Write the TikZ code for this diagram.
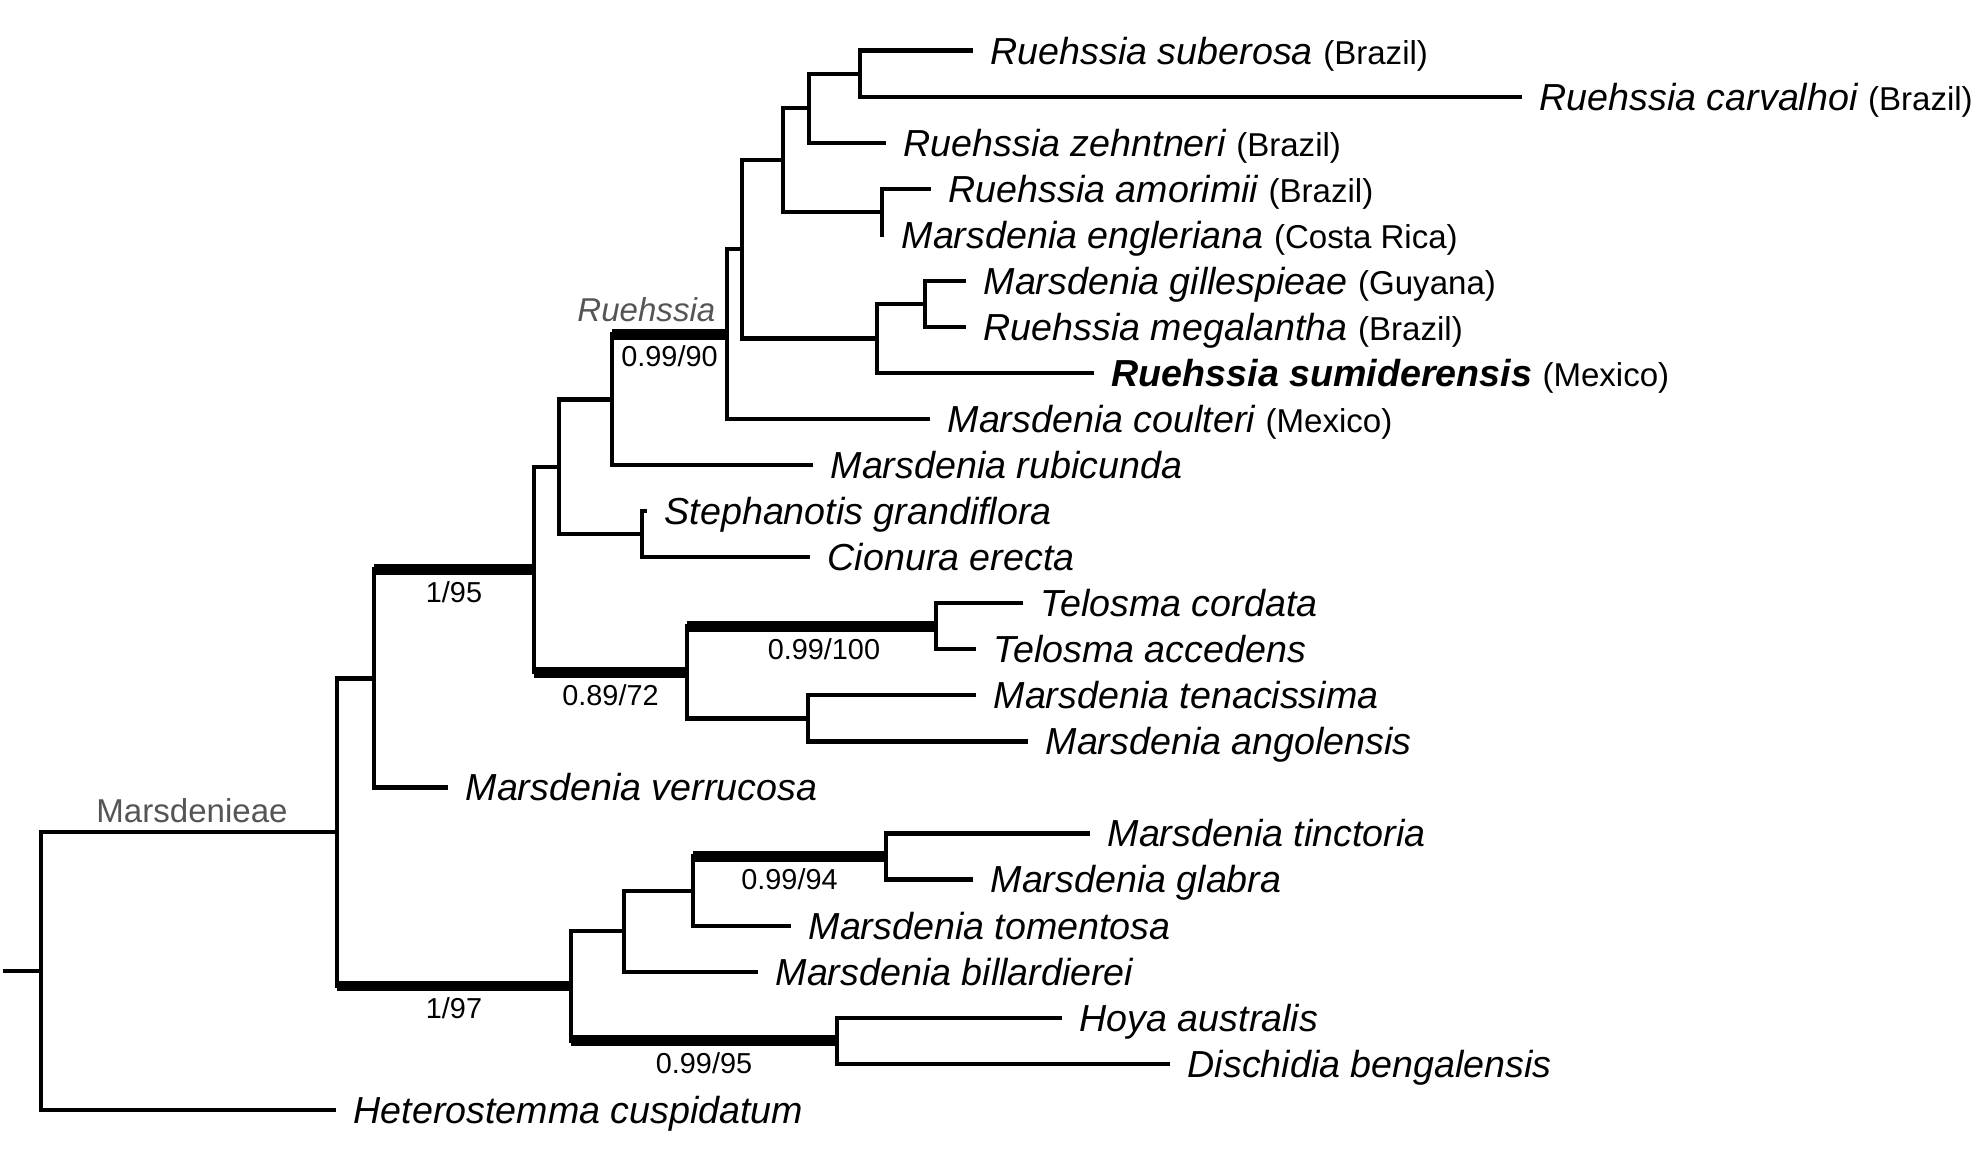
\documentclass[tikz,border=0pt]{standalone}
\usepackage{fontspec}
\setsansfont{Liberation Sans}
\usepackage{tikz}
\usetikzlibrary{calc}
\definecolor{cladegray}{HTML}{555555}
\newcommand\ctry[1]{{\upshape\fontsize{9.4}{11}\selectfont #1}}

\begin{document}
\begin{tikzpicture}[x=0.01cm,y=-0.01cm,
 br/.style={line width=1.2pt},
 tb/.style={line width=3.1pt},
 tip/.style={anchor=base west,inner sep=0pt,xshift=1.7mm,yshift=-1.34mm,font=\sffamily\fontsize{10.7}{12}\selectfont\itshape},
 sup/.style={inner sep=0pt,yshift=-2.25mm,font=\sffamily\fontsize{8.2}{10}\selectfont},
 grp/.style={inner sep=0pt,text=cladegray,font=\sffamily\fontsize{9.4}{11}\selectfont}]
 \useasboundingbox (0,0) rectangle (1984,1151);
 % tip ends
 \coordinate (t1) at (973,50.6);
 \coordinate (t2) at (1522,96.7);
 \coordinate (t3) at (886,142.7);
 \coordinate (t4) at (931,188.8);
 \coordinate (t5) at (884,234.8);
 \coordinate (t6) at (966,280.9);
 \coordinate (t7) at (966,326.9);
 \coordinate (t8) at (1094,373.0);
 \coordinate (t9) at (930,419.0);
 \coordinate (t10) at (813,465.1);
 \coordinate (t11) at (647,511.1);
 \coordinate (t12) at (810,557.2);
 \coordinate (t13) at (1023,603.2);
 \coordinate (t14) at (976,649.3);
 \coordinate (t15) at (976,695.3);
 \coordinate (t16) at (1028,741.4);
 \coordinate (t17) at (448,787.4);
 \coordinate (t18) at (1090,833.5);
 \coordinate (t19) at (973,879.5);
 \coordinate (t20) at (791,925.6);
 \coordinate (t21) at (758,971.6);
 \coordinate (t22) at (1062,1017.7);
 \coordinate (t23) at (1170,1063.7);
 \coordinate (t24) at (336,1109.8);
 % internal nodes
 \coordinate (a1) at (860,73.65);
 \coordinate (a2) at (809,108.2);
 \coordinate (a3) at (882,211.8);
 \coordinate (a4) at (783,160);
 \coordinate (a5) at (925,303.9);
 \coordinate (a6) at (877,338.5);
 \coordinate (a7) at (742,249.2);
 \coordinate (a8) at (727,334.1);
 \coordinate (a9) at (612,399.6);
 \coordinate (a10) at (642,534.2);
 \coordinate (a11) at (559,466.9);
 \coordinate (a12) at (936,626.3);
 \coordinate (a13) at (808,718.4);
 \coordinate (a14) at (687,672.3);
 \coordinate (a15) at (534,569.6);
 \coordinate (a16) at (374,678.5);
 \coordinate (a17) at (886,856.5);
 \coordinate (a18) at (693,891);
 \coordinate (a19) at (624,931.3);
 \coordinate (a20) at (837,1040.7);
 \coordinate (a21) at (571,986);
 \coordinate (a22) at (337,832.3);
 \coordinate (rt) at (41,971);
 \coordinate (r0) at (3,971);
 % branches
 \foreach \p/\c in {a1/t1,a1/t2,a2/a1,a2/t3,a3/t4,a3/t5,a4/a2,a4/a3,a5/t6,a5/t7,a6/a5,a6/t8,
   a7/a4,a7/a6,a8/a7,a8/t9,a9/a8,a9/t10,a10/t11,a10/t12,a11/a9,a11/a10,a12/t13,a12/t14,
   a13/t15,a13/t16,a14/a12,a14/a13,a15/a11,a15/a14,a16/a15,a16/t17,a17/t18,a17/t19,
   a18/a17,a18/t20,a19/a18,a19/t21,a20/t22,a20/t23,a21/a19,a21/a20,a22/a16,a22/a21,
   rt/a22,rt/t24}
   \draw[br] (\p) |- (\c);
 \draw[br] (r0) -- (rt);
 % supported branches
 \draw[tb] (a9|-a8) -- node[sup]{0.99/90} (a8);
 \draw[tb] (a16|-a15) -- node[sup]{1/95} (a15);
 \draw[tb] (a15|-a14) -- node[sup]{0.89/72} (a14);
 \draw[tb] (a14|-a12) -- node[sup,pos=.55]{0.99/100} (a12);
 \draw[tb] (a18|-a17) -- node[sup]{0.99/94} (a17);
 \draw[tb] (a22|-a21) -- node[sup]{1/97} (a21);
 \draw[tb] (a21|-a20) -- node[sup]{0.99/95} (a20);
 % clade names
 \node[grp,anchor=base east,xshift=-1.1mm,yshift=1.3mm] (rue) at (a8) {\itshape Ruehssia};
 \node[grp,anchor=base,yshift=1mm,xshift=0.3mm] (mar) at ($(rt|-a22)!.5!(a22)$) {Marsdenieae};
 % taxa
 \node[tip] (s1) at (t1) {Ruehssia suberosa \ctry{(Brazil)}};
 \node[tip] (s2) at (t2) {Ruehssia carvalhoi \ctry{(Brazil)}};
 \node[tip] (s3) at (t3) {Ruehssia zehntneri \ctry{(Brazil)}};
 \node[tip] (s4) at (t4) {Ruehssia amorimii \ctry{(Brazil)}};
 \node[tip] (s5) at (t5) {Marsdenia engleriana \ctry{(Costa Rica)}};
 \node[tip] (s6) at (t6) {Marsdenia gillespieae \ctry{(Guyana)}};
 \node[tip] (s7) at (t7) {Ruehssia megalantha \ctry{(Brazil)}};
 \node[tip] (s8) at (t8) {\bfseries Ruehssia sumiderensis \ctry{\mdseries(Mexico)}};
 \node[tip] (s9) at (t9) {Marsdenia coulteri \ctry{(Mexico)}};
 \node[tip] (s10) at (t10) {Marsdenia rubicunda};
 \node[tip] (s11) at (t11) {Stephanotis grandiflora};
 \node[tip] (s12) at (t12) {Cionura erecta};
 \node[tip] (s13) at (t13) {Telosma cordata};
 \node[tip] (s14) at (t14) {Telosma accedens};
 \node[tip] (s15) at (t15) {Marsdenia tenacissima};
 \node[tip] (s16) at (t16) {Marsdenia angolensis};
 \node[tip] (s17) at (t17) {Marsdenia verrucosa};
 \node[tip] (s18) at (t18) {Marsdenia tinctoria};
 \node[tip] (s19) at (t19) {Marsdenia glabra};
 \node[tip] (s20) at (t20) {Marsdenia tomentosa};
 \node[tip] (s21) at (t21) {Marsdenia billardierei};
 \node[tip] (s22) at (t22) {Hoya australis};
 \node[tip] (s23) at (t23) {Dischidia bengalensis};
 \node[tip] (s24) at (t24) {Heterostemma cuspidatum};
\end{tikzpicture}
\end{document}
